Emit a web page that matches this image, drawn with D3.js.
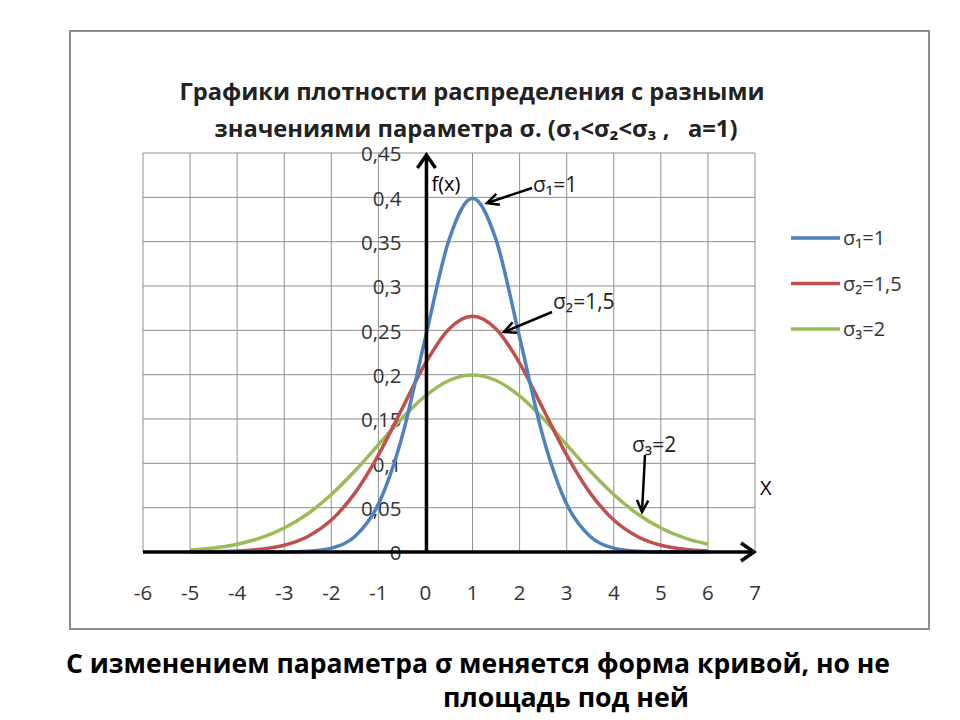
<!DOCTYPE html>
<html><head><meta charset="utf-8">
<script src="https://cdn.jsdelivr.net/npm/d3@7"></script>
<style>body{margin:0;background:#fff}svg{display:block}text{white-space:pre}</style>
</head><body>
<svg id="c" width="960" height="720"></svg>
<script>
// ---- data ----
const xs = [-5,-4.5,-4,-3.5,-3,-2.5,-2,-1.5,-1,-0.5,0,0.5,1,1.5,2,2.5,3,3.5,4,4.5,5,5.5,6];
const sigma1 = [0,0,0,0,0.0001,0.0009,0.0044,0.0175,0.054,0.1295,0.242,0.352,0.399,0.352,0.242,0.1295,0.054,0.0175,0.0044,0.0009,0.0001,0,0];
const sigma2 = [0.0001,0.0003,0.001,0.003,0.0076,0.0175,0.036,0.0664,0.1093,0.1613,0.213,0.2516,0.266,0.2516,0.213,0.1613,0.1093,0.0664,0.036,0.0175,0.0076,0.003,0.001];
const sigma3 = [0.0022,0.0046,0.0088,0.0159,0.027,0.0431,0.0648,0.0913,0.121,0.1506,0.176,0.1934,0.1995,0.1934,0.176,0.1506,0.121,0.0913,0.0648,0.0431,0.027,0.0159,0.0088];
const xTicks = [-6,-5,-4,-3,-2,-1,0,1,2,3,4,5,6,7];
const yTicks = [0,0.05,0.1,0.15,0.2,0.25,0.3,0.35,0.4,0.45];
const seriesNames = ["σ₁=1","σ₂=1,5","σ₃=2"];
const seriesColors = ["#4F81BD","#C0504D","#9BBB59"];
const titleLines = ["Графики плотности распределения с разными","значениями параметра σ. (σ₁<σ₂<σ₃ ,   a=1)"];
const caption = ["С изменением параметра σ меняется форма кривой, но не","площадь под ней"];

const svg = d3.select("#c");
const x = d3.scaleLinear().domain([-6,7]).range([143,755]);
const y = d3.scaleLinear().domain([0,0.45]).range([552,153]);
const lblFont = "'Open Sans', 'Noto Sans', sans-serif";

// outer frame
svg.append("rect").attr("x",70).attr("y",31).attr("width",859).attr("height",598)
  .attr("fill","#fff").attr("stroke","#8c8c8c").attr("stroke-width",2);

// grid
const g = svg.append("g");
g.selectAll("line.v").data(xTicks).join("line")
  .attr("x1",d=>x(d)).attr("x2",d=>x(d)).attr("y1",y(0.45)).attr("y2",y(0))
  .attr("stroke","#8f8f8f").attr("stroke-width",1);
g.selectAll("line.h").data(yTicks).join("line")
  .attr("x1",x(-6)).attr("x2",x(7)).attr("y1",d=>y(d)).attr("y2",d=>y(d))
  .attr("stroke","#8f8f8f").attr("stroke-width",1);

// y tick labels
const fmt = d => d===0 ? "0" : String(+d.toFixed(2)).replace(".",",");
svg.selectAll("text.yl").data(yTicks).join("text")
  .attr("x",x(0)-24).attr("y",d=>y(d)+1).attr("dy","0.36em")
  .attr("text-anchor","end").attr("font-family",lblFont).attr("font-size",20.5)
  .attr("fill","#333").text(fmt);
// x tick labels
svg.selectAll("text.xl").data(xTicks).join("text")
  .attr("x",d=>x(d)).attr("y",593).attr("dy","0.36em")
  .attr("text-anchor","middle").attr("font-family",lblFont).attr("font-size",20.5)
  .attr("fill","#333").text(d=>d);

// series
const allSeries = [sigma1,sigma2,sigma3];
const line = d3.line().x((d,i)=>x(xs[i])).y(d=>y(d)).curve(d3.curveMonotoneX);
[2,1,0].forEach(k=>{
  svg.append("path").datum(allSeries[k]).attr("d",line)
    .attr("fill","none").attr("stroke",seriesColors[k]).attr("stroke-width",3.5)
    .attr("stroke-linejoin","round");
});

// axes
svg.append("line").attr("x1",x(-6)).attr("x2",x(7)-2).attr("y1",y(0)).attr("y2",y(0))
  .attr("stroke","#000").attr("stroke-width",3.5);
svg.append("path").attr("d",`M${x(7)-14},${y(0)-9} L${x(7)-1},${y(0)} L${x(7)-14},${y(0)+9}`)
  .attr("fill","none").attr("stroke","#000").attr("stroke-width",3.5);
svg.append("line").attr("x1",x(0)+1).attr("x2",x(0)+1).attr("y1",y(0)).attr("y2",y(0.45)+3)
  .attr("stroke","#000").attr("stroke-width",3.5);
svg.append("path").attr("d",`M${x(0)-8},${y(0.45)+15} L${x(0)+1},${y(0.45)+2} L${x(0)+10},${y(0.45)+15}`)
  .attr("fill","none").attr("stroke","#000").attr("stroke-width",3.5);
svg.append("text").attr("x",x(0)+6).attr("y",191).attr("font-family",lblFont)
  .attr("font-size",20).attr("fill","#000").text("f(x)");
svg.append("text").attr("x",x(7)+5).attr("y",495).attr("font-family",lblFont)
  .attr("font-size",20).attr("fill","#000").text("X");

// title
svg.selectAll("text.title").data(titleLines).join("text")
  .attr("x",(d,i)=> i===0?472:476).attr("y",(d,i)=>100+i*37)
  .attr("text-anchor","middle").attr("font-family",lblFont).attr("font-weight","bold")
  .attr("font-size",22.5).attr("fill","#222")
  .attr("textLength",(d,i)=> i===0?585:523).attr("lengthAdjust","spacingAndGlyphs")
  .text(d=>d);

// legend
const leg = svg.append("g");
seriesNames.forEach((n,i)=>{
  const ly = 238 + i*45.5;
  leg.append("line").attr("x1",791).attr("x2",840).attr("y1",ly).attr("y2",ly)
    .attr("stroke",seriesColors[i]).attr("stroke-width",3.5);
  leg.append("text").attr("x",843).attr("y",ly).attr("dy","0.36em")
    .attr("font-family",lblFont).attr("font-size",20).attr("fill","#333").text(n);
});

// annotations
function arrow(x1,y1,x2,y2){
  svg.append("line").attr("x1",x1).attr("y1",y1).attr("x2",x2).attr("y2",y2)
    .attr("stroke","#000").attr("stroke-width",2.5);
  const a = Math.atan2(y2-y1,x2-x1), L=13, s=0.45;
  const p1=[x2-L*Math.cos(a-s),y2-L*Math.sin(a-s)], p2=[x2-L*Math.cos(a+s),y2-L*Math.sin(a+s)];
  svg.append("path").attr("d",`M${p1} L${x2},${y2} L${p2}`).attr("fill","none")
    .attr("stroke","#000").attr("stroke-width",2.5);
}
arrow(532,188,487,203);
arrow(552,312,504,332);
arrow(645,455,642,512);
const ann = [["σ₁=1",533,184],["σ₂=1,5",553,301],["σ₃=2",632,444]];
svg.selectAll("text.ann").data(ann).join("text")
  .attr("x",d=>d[1]).attr("y",d=>d[2]).attr("dy","0.36em")
  .attr("font-family",lblFont).attr("font-size",21).attr("fill","#222").text(d=>d[0]);

// caption
svg.selectAll("text.cap").data(caption).join("text")
  .attr("x",(d,i)=> i===0?66:443).attr("y",(d,i)=>673+i*34)
  .attr("font-family",lblFont).attr("font-weight","bold").attr("font-size",26)
  .attr("fill","#000")
  .attr("textLength",(d,i)=> i===0?824:246).attr("lengthAdjust","spacingAndGlyphs")
  .text(d=>d);
</script>
</body></html>
